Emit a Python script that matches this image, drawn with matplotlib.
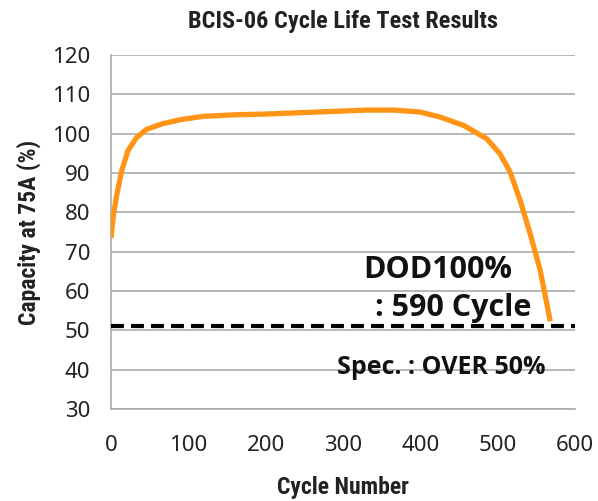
import matplotlib.pyplot as plt

# data
cycles = [0, 3, 7, 14, 22, 33, 46, 66, 91, 119, 160, 202, 266, 331, 365,
          400, 426, 456, 486, 503, 516, 529, 542, 555, 568]
capacity = [73.5, 79, 84, 90.7, 95.7, 99, 101.1, 102.5, 103.6, 104.4, 104.8, 105.0, 105.5, 106.0, 106.0,
            105.5, 104.2, 102.1, 98.7, 94.9, 90.3, 83.1, 74.6, 65.3, 52.3]
spec_level = 51.2
y_ticks = [30, 40, 50, 60, 70, 80, 90, 100, 110, 120]
x_ticks = [0, 100, 200, 300, 400, 500, 600]

narrow = ['Roboto Condensed', 'Liberation Sans', 'DejaVu Sans']
body = ['Open Sans', 'DejaVu Sans']

fig = plt.figure(figsize=(5.98, 5.01), dpi=100)
ax = fig.add_axes([0.1856, 0.1836, 0.7759, 0.7066])

# capacity curve
ax.plot(cycles, capacity, color='#FF9416', lw=3.8, solid_joinstyle='round',
        solid_capstyle='butt', zorder=3)

# spec line
ax.axhline(spec_level, color='black', lw=3, dashes=(3.1, 1.7),
           dash_capstyle='butt', zorder=4)

ax.set_xlim(0, 600)
ax.set_ylim(30, 120)
ax.set_xticks(x_ticks)
ax.set_yticks(y_ticks)
ax.tick_params(length=0, labelsize=16)
ax.tick_params(axis='y', pad=15)
ax.tick_params(axis='x', pad=19)
for lab in ax.get_xticklabels() + ax.get_yticklabels():
    lab.set_family(['Noto Sans', 'DejaVu Sans'])
    lab.set_color('#222222')

ax.grid(axis='y', color='#ABABAB', lw=1.2)
ax.set_axisbelow(True)
for s in ['top', 'right']:
    ax.spines[s].set_visible(False)
for s in ['left', 'bottom']:
    ax.spines[s].set_color('#ABABAB')
    ax.spines[s].set_linewidth(1.2)

ax.set_xlabel('Cycle Number', family=narrow, fontweight='bold', fontsize=17,
              color='#222222', labelpad=14)
ax.set_ylabel('Capacity at 75A (%)', family=narrow, fontweight='bold', fontsize=17,
              color='#222222', labelpad=8)
fig.text(0.574, 0.958, 'BCIS-06 Cycle Life Test Results', ha='center', va='center',
         family=narrow, fontweight='bold', fontsize=17.5, color='#222222')

ax.text(423, 65.3, 'DOD100%', ha='center', va='center', family=body,
        fontweight='bold', fontsize=22, color='#111111')
ax.text(442, 55.6, ': 590 Cycle', ha='center', va='center', family=body,
        fontweight='bold', fontsize=22, color='#111111')
ax.text(427, 40.6, 'Spec. : OVER 50%', ha='center', va='center', family=body,
        fontweight='bold', fontsize=18, color='#111111')

plt.savefig('out.png', dpi=100)
